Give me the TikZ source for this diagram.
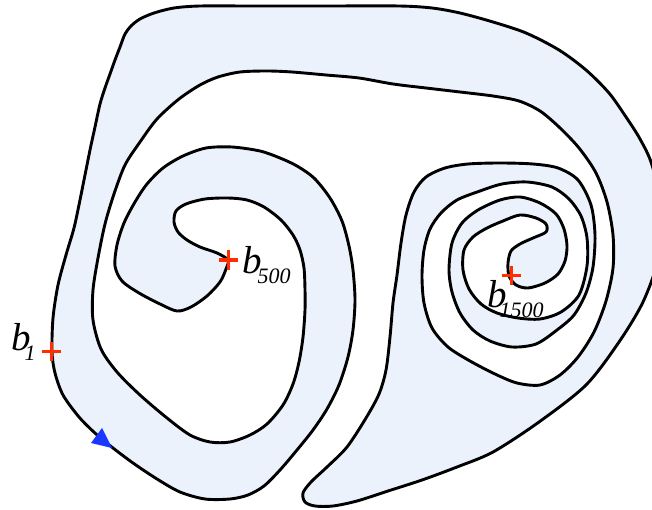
\documentclass[tikz,border=0pt]{standalone}
\usepackage{fontspec}
\setmainfont{Liberation Serif}
\definecolor{bandfill}{RGB}{236,242,251}
\definecolor{markred}{RGB}{255,45,0}
\definecolor{arrowblue}{RGB}{25,55,255}
\tikzset{
  band/.style={draw=black, fill=bandfill, line width=2.9pt, line join=round},
  plusmark/.style={draw=markred, line width=3pt},
  lbl/.style={inner sep=0pt, anchor=base west, font=\fontsize{39}{39}\selectfont\itshape},
}
\newcommand{\subtxt}[1]{\raisebox{-10pt}{\fontsize{22}{22}\selectfont\itshape #1}}
\begin{document}
\begin{tikzpicture}[x=1pt,y=-1pt]
\useasboundingbox (0,0) rectangle (652,510);
\clip (0,0) rectangle (652,510);
\path[band] plot[smooth cycle, tension=0.5] coordinates {
(52,352) (55,373) (63,395) (79,417) (96,434) (113,448) (133,463) (157,479) (180,492) (205,499) (230,499) (248,495) (264,486) (280,470) (297,450) (313,430) (327,409) (339,385) (348,357) (353,330) (355,300) (353,270) (349,246) (342,221) (330,198) (314,178) (297,166) (280,158) (260,151) (232,147) (206,148) (183,156) (163,168) (147,184) (135,202) (124,223) (117,245) (115,266) (122,281) (139,293) (160,304) (177,311) (191,307) (207,296) (220,282) (226,269) (228,260)
(217,253) (200,247) (187,240) (178,232) (174,222) (176,211) (186,204) (205,199) (228,198) (247,200) (264,207) (281,220) (293,235) (300,250) (304,268) (305,290) (305,310) (303,337) (299,362) (293,384) (283,405) (267,424) (250,435) (230,442) (210,442) (190,435) (167,418) (140,395) (117,372) (101,349) (93,320) (93,290) (98,258) (105,224) (114,194) (125,165) (140,142) (157,119) (179,99) (200,85) (218,77) (240,72) (267,71) (292,72) (326,75) (359,78) (393,84) (426,88) (460,92) (493,96) (519,101) (540,111) (559,127) (579,148) (596,173) (607,202) (613,235) (613,268) (606,301) (594,332) (578,357) (560,375) (540,385) (517,383) (495,374) (470,361) (448,347) (432,328) (424,303) (422,276) (424,250) (430,229) (441,213) (457,200) (480,191) (502,184) (527,182) (552,187) (569,199) (581,216) (587,238) (587,266) (579,295) (561,312) (540,319) (518,318) (497,313) (481,304) (469,289) (463,270) (464,250) (473,237) (487,228) (503,221) (520,215) (536,218) (546,224) (546,232) (533,238) (520,244) (511,251) (508,263) (509,276)
(516,285) (528,288) (545,283) (558,274) (565,261) (567,246) (564,229) (556,214) (540,203) (520,197) (500,200) (478,210) (462,223) (452,243) (449,270) (452,292) (460,313) (473,330) (490,341) (512,347) (536,344) (557,330) (574,315) (586,293) (593,267) (595,235) (591,205) (578,180) (558,168) (533,164) (500,163) (468,164) (445,168) (426,177) (414,192) (406,215) (401,243) (397,275) (393,303) (390,337) (386,370) (379,394) (366,418) (347,447) (327,467) (311,482) (303,493) (305,502) (315,506) (333,506) (357,501) (388,491) (422,480) (457,467) (493,452) (539,422) (586,385) (619,342) (643,302) (658,260) (663,215) (652,165) (640,139) (626,117) (609,93) (586,70) (559,50) (526,33) (493,22) (460,13) (432,8) (399,6) (326,6) (250,6) (200,6) (174,8) (154,13) (140,19) (131,26) (125,34) (120,47) (115,60) (110,74) (105,88) (100,104) (95,127) (90,150) (85,175) (80,200) (74,228) (66,255) (58,285) (53,318)
};
% direction arrowhead
\fill[arrowblue] (112,448) -- (102,428) -- (91,443) -- cycle;
% markers
\coordinate (p1) at (51,351);
\coordinate (p500) at (228,260);
\coordinate (p1500) at (511,275);
\foreach \p in {p1,p500,p1500}{
  \draw[plusmark] ([xshift=-9.5pt]\p) -- ([xshift=9.5pt]\p) ([yshift=-9.5pt]\p) -- ([yshift=9.5pt]\p);
}
% labels
\node[lbl] (b1) at (11,350) {b\kern-6pt\subtxt{1}};
\node[lbl] (b500) at (242,273) {b\kern-4pt\subtxt{500}};
\node[lbl] (b1500) at (487,307) {b\kern-7pt\subtxt{1500}};
\end{tikzpicture}
\end{document}
